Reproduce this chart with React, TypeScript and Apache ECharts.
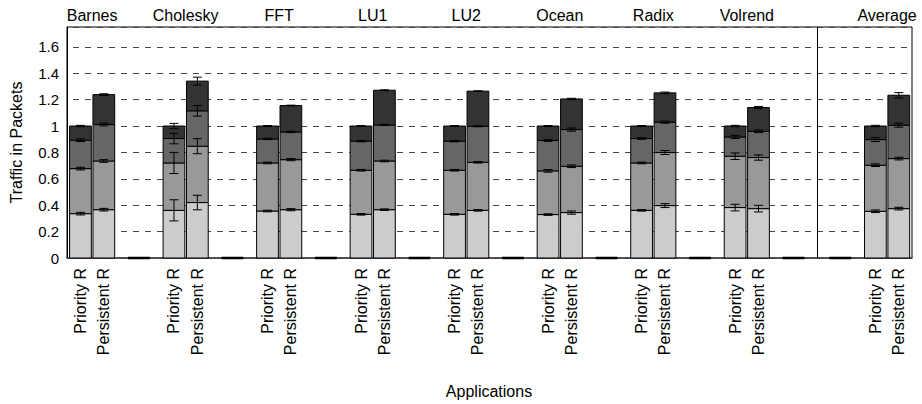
import React, { useEffect, useRef } from "react";
import * as echarts from "echarts";

// ---------- data ----------
const apps = ["Barnes", "Cholesky", "FFT", "LU1", "LU2", "Ocean", "Radix", "Volrend", "Average"];
const schemes = ["Priority R", "Persistent R"];
const layerNames = ["Layer 1", "Layer 2", "Layer 3", "Layer 4"];

// cumulative tops of each stacked layer (Priority R)
const priorityTop1 = [0.336, 0.361, 0.356, 0.331, 0.331, 0.329, 0.361, 0.382, 0.354];
const priorityTop2 = [0.677, 0.720, 0.720, 0.665, 0.665, 0.660, 0.720, 0.771, 0.703];
const priorityTop3 = [0.892, 0.905, 0.902, 0.885, 0.885, 0.890, 0.905, 0.917, 0.897];
const priorityTop4 = [1.0, 1.0, 1.0, 1.0, 1.0, 1.0, 1.0, 1.0, 1.0];
// cumulative tops (Persistent R)
const persistentTop1 = [0.366, 0.420, 0.366, 0.366, 0.361, 0.344, 0.397, 0.374, 0.374];
const persistentTop2 = [0.735, 0.847, 0.745, 0.735, 0.725, 0.695, 0.799, 0.761, 0.753];
const persistentTop3 = [1.011, 1.115, 0.955, 1.008, 0.998, 0.973, 1.029, 0.960, 1.006];
const persistentTop4 = [1.238, 1.340, 1.155, 1.271, 1.264, 1.205, 1.251, 1.140, 1.233];
// error half-widths
const priorityErr1 = [0.01, 0.08, 0.006, 0.006, 0.006, 0.006, 0.006, 0.025, 0.01];
const priorityErr2 = [0.01, 0.08, 0.006, 0.006, 0.006, 0.01, 0.006, 0.025, 0.01];
const priorityErr3 = [0.01, 0.04, 0.005, 0.005, 0.005, 0.006, 0.006, 0.012, 0.015];
const priorityErr4 = [0.005, 0.02, 0.003, 0.003, 0.003, 0.003, 0.003, 0.005, 0.005];
const persistentErr1 = [0.01, 0.055, 0.008, 0.006, 0.006, 0.012, 0.015, 0.025, 0.01];
const persistentErr2 = [0.01, 0.057, 0.008, 0.006, 0.006, 0.01, 0.015, 0.02, 0.01];
const persistentErr3 = [0.01, 0.04, 0.005, 0.004, 0.004, 0.012, 0.008, 0.01, 0.015];
const persistentErr4 = [0.006, 0.03, 0.003, 0.003, 0.003, 0.005, 0.006, 0.008, 0.02];

// ---------- layout ----------
const layerColors = ["#cccccc", "#999999", "#666666", "#333333"];
const FONT = "'Liberation Sans', Arial, Helvetica, sans-serif";
const HALF_W = 0.93;
const X_MIN = -1.15;
const X_MAX = 71.13;
const SEPARATOR_X = 63;

function barX(g: number, s: number) {
  return g < 8 ? g * 8 + s * 2 : 68 + s * 2;
}
function blankX(g: number) {
  return g < 8 ? g * 8 + 5 : 65;
}

const priTops = [priorityTop1, priorityTop2, priorityTop3, priorityTop4];
const perTops = [persistentTop1, persistentTop2, persistentTop3, persistentTop4];
const priErrs = [priorityErr1, priorityErr2, priorityErr3, priorityErr4];
const perErrs = [persistentErr1, persistentErr2, persistentErr3, persistentErr4];

export default function App() {
  const ref = useRef<HTMLDivElement>(null);
  useEffect(() => {
    if (!ref.current) return;
    const chart = echarts.init(ref.current, null, { renderer: "svg" });

    const layerSeries: any[] = layerNames.map((name, k) => {
      const data: number[][] = [];
      apps.forEach((_, i) => {
        [priTops, perTops].forEach((tops, s) => {
          const bottom = k === 0 ? 0 : tops[k - 1][i];
          data.push([barX(i, s), bottom, tops[k][i]]);
        });
      });
      return {
        type: "custom",
        name,
        clip: false,
        encode: { x: 0, y: 2 },
        data,
        z: 2,
        renderItem: (params: any, api: any) => {
          const x = api.value(0);
          const y0 = api.value(1);
          const y1 = api.value(2);
          const p0 = api.coord([x - HALF_W, y1]);
          const p1 = api.coord([x + HALF_W, y0]);
          return {
            type: "rect",
            shape: { x: p0[0], y: p0[1], width: p1[0] - p0[0], height: p1[1] - p0[1] },
            style: { fill: layerColors[k], stroke: "#000", lineWidth: 1 },
          };
        },
      };
    });

    const errData: number[][] = [];
    apps.forEach((_, i) => {
      [0, 1].forEach((s) => {
        const tops = s === 0 ? priTops : perTops;
        const errs = s === 0 ? priErrs : perErrs;
        for (let k = 0; k < 4; k++) errData.push([barX(i, s), tops[k][i], errs[k][i]]);
      });
    });

    const errSeries = {
      type: "custom",
      name: "error",
      clip: false,
      encode: { x: 0, y: 1 },
      data: errData,
      z: 3,
      renderItem: (params: any, api: any) => {
        const x = api.value(0);
        const y = api.value(1);
        const e = api.value(2);
        const lo = api.coord([x, y - e]);
        const hi = api.coord([x, y + e]);
        const cw = 4.5;
        const st = { stroke: "#000", lineWidth: 1 };
        return {
          type: "group",
          children: [
            { type: "line", shape: { x1: lo[0], y1: lo[1], x2: hi[0], y2: hi[1] }, style: st },
            { type: "line", shape: { x1: lo[0] - cw, y1: lo[1], x2: lo[0] + cw, y2: lo[1] }, style: st },
            { type: "line", shape: { x1: hi[0] - cw, y1: hi[1], x2: hi[0] + cw, y2: hi[1] }, style: st },
          ],
        };
      },
    };

    const blankSeries = {
      type: "custom",
      name: "blank",
      clip: false,
      encode: { x: 0, y: 1 },
      data: apps.map((_, i) => [blankX(i), 0]),
      z: 2,
      renderItem: (params: any, api: any) => {
        const x = api.value(0);
        const a = api.coord([x - HALF_W, 0]);
        const b = api.coord([x + HALF_W, 0]);
        return {
          type: "line",
          shape: { x1: a[0], y1: a[1], x2: b[0], y2: b[1] },
          style: { stroke: "#000", lineWidth: 2.5 },
        };
      },
      markLine: {
        silent: true,
        symbol: "none",
        label: { show: false },
        lineStyle: { color: "#000", type: "solid", width: 1 },
        data: [{ xAxis: SEPARATOR_X }],
      },
    };

    const labelData: number[][] = [];
    apps.forEach((_, i) => [0, 1].forEach((s) => labelData.push([barX(i, s), s])));
    const labelSeries = {
      type: "custom",
      name: "barLabels",
      clip: false,
      encode: { x: 0 },
      data: labelData,
      z: 4,
      renderItem: (params: any, api: any) => {
        const x = api.value(0);
        const s = api.value(1);
        const p = api.coord([x, 0]);
        return {
          type: "text",
          x: p[0],
          y: p[1] + 10,
          rotation: Math.PI / 2,
          style: {
            text: schemes[s],
            font: `16px ${FONT}`,
            fill: "#000",
            align: "right",
            verticalAlign: "middle",
          },
        };
      },
    };

    const titleSeries = {
      type: "custom",
      name: "groupTitles",
      clip: false,
      encode: { x: 0 },
      data: apps.map((_, i) => [(barX(i, 0) + barX(i, 1)) / 2]),
      z: 4,
      renderItem: (params: any, api: any) => {
        const x = api.value(0);
        const p = api.coord([x, 1.75]);
        return {
          type: "text",
          x: p[0],
          y: p[1] - 12,
          style: {
            text: apps[params.dataIndex],
            font: `16px ${FONT}`,
            fill: "#000",
            align: "center",
            verticalAlign: "middle",
          },
        };
      },
    };

    chart.setOption({
      animation: false,
      backgroundColor: "#fff",
      grid: { left: 66, right: 10, top: 27, bottom: 146, show: true, borderColor: "#000", borderWidth: 1 },
      xAxis: {
        type: "value",
        min: X_MIN,
        max: X_MAX,
        axisLine: { show: true, onZero: false, lineStyle: { color: "#444", width: 1.5 } },
        axisTick: { show: false },
        axisLabel: { show: false },
        splitLine: { show: false },
      },
      yAxis: {
        type: "value",
        min: 0,
        max: 1.75,
        interval: 0.2,
        name: "Traffic in Packets",
        nameLocation: "middle",
        nameGap: 43,
        nameTextStyle: { fontFamily: FONT, fontSize: 16, color: "#000" },
        axisLine: { show: true, onZero: false, lineStyle: { color: "#000" } },
        axisTick: { show: false },
        axisLabel: {
          fontFamily: FONT,
          fontSize: 15,
          color: "#000",
          margin: 8,
          formatter: (v: number) => {
            const r = Math.round(v * 5) / 5;
            if (Math.abs(r - v) > 1e-6 || v > 1.61) return "";
            return String(r);
          },
        },
        splitLine: {
          show: true,
          lineStyle: { color: "#444", width: 1, type: [6, 6], dashOffset: 6 },
        },
      },
      graphic: [
        {
          type: "text",
          x: 489,
          y: 391,
          style: {
            text: "Applications",
            font: `16px ${FONT}`,
            fill: "#000",
            align: "center",
            verticalAlign: "middle",
          },
        },
      ],
      series: [...layerSeries, blankSeries, errSeries, labelSeries, titleSeries],
    });
    return () => chart.dispose();
  }, []);
  return (
    <div
      ref={ref}
      style={{ position: "fixed", left: 0, top: 0, width: 922, height: 404, background: "#fff" }}
    />
  );
}
